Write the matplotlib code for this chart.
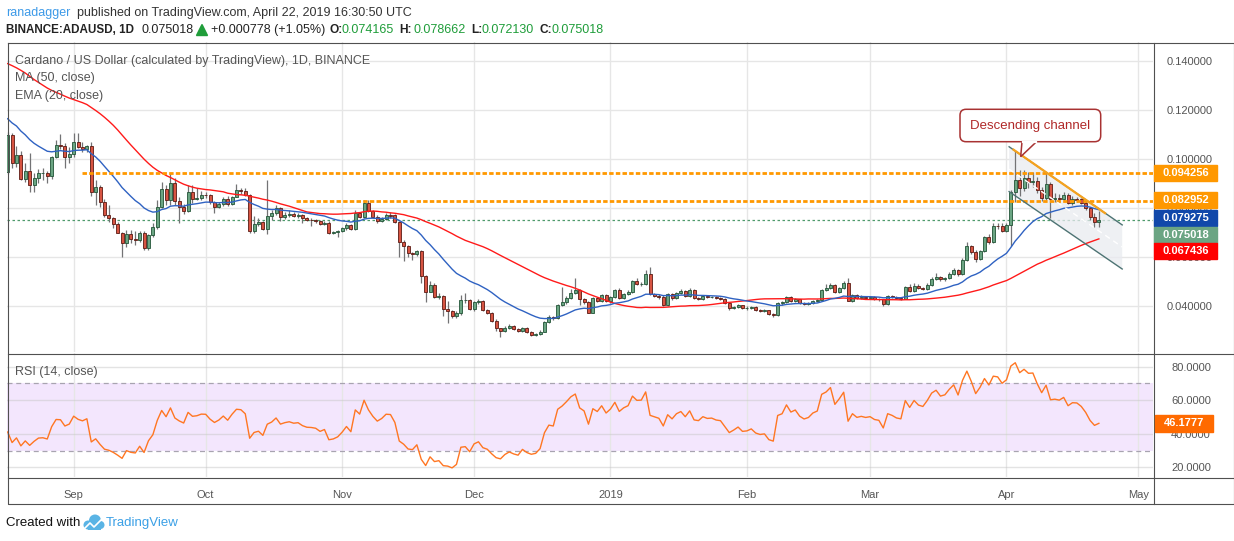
import numpy as np
import matplotlib
matplotlib.use("Agg")
import matplotlib.pyplot as plt
from matplotlib.patches import Rectangle, FancyBboxPatch, Polygon, Circle

plt.rcParams['font.family'] = ['Liberation Sans', 'DejaVu Sans']

W, H = 1234, 541

# ADA/USD daily, 2018-08-17 .. 2019-04-22
# closes of the 50 days before the first visible candle (feeds MA/EMA/RSI warm-up)
closes_before = [0.136, 0.140, 0.146, 0.143, 0.150, 0.155, 0.160, 0.152, 0.150, 0.153,
                 0.148, 0.146, 0.143, 0.142, 0.140, 0.138, 0.135, 0.137, 0.143, 0.147,
                 0.150, 0.148, 0.150, 0.155, 0.158, 0.165, 0.170, 0.172, 0.168, 0.163,
                 0.166, 0.160, 0.155, 0.150, 0.145, 0.140, 0.135, 0.132, 0.130, 0.127,
                 0.122, 0.118, 0.112, 0.106, 0.100, 0.098, 0.090, 0.093, 0.096, 0.0948]

closes = [
    0.1100, 0.0985, 0.1016, 0.0918, 0.0951, 0.0895, 0.0921, 0.0942, 0.0944, 0.0932,
    0.1007, 0.1057, 0.1055, 0.1008, 0.1020, 0.1071, 0.1050, 0.1040, 0.1052, 0.0866,
    0.0884, 0.0826, 0.0771, 0.0758, 0.0733, 0.0699, 0.0658, 0.0694, 0.0675, 0.0668,
    0.0697, 0.0635, 0.0690, 0.0721, 0.0805, 0.0876, 0.0833, 0.0901, 0.0828, 0.0805,
    0.0789, 0.0866, 0.0838, 0.0842, 0.0853, 0.0852, 0.0823, 0.0803, 0.0816, 0.0837,
    0.0815, 0.0846, 0.0873, 0.0871, 0.0853, 0.0707, 0.0735, 0.0741, 0.0713, 0.0767,
    0.0778, 0.0799, 0.0765, 0.0772, 0.0776, 0.0769, 0.0771, 0.0758, 0.0751, 0.0750,
    0.0747, 0.0735, 0.0740, 0.0699, 0.0701, 0.0706, 0.0717, 0.0731, 0.0714, 0.0778,
    0.0765, 0.0819, 0.0788, 0.0765, 0.0747, 0.0756, 0.0771, 0.0770, 0.0744, 0.0662,
    0.0644, 0.0615, 0.0611, 0.0624, 0.0522, 0.0458, 0.0486, 0.0438, 0.0441, 0.0386,
    0.0381, 0.0360, 0.0370, 0.0424, 0.0426, 0.0389, 0.0415, 0.0422, 0.0384, 0.0373,
    0.0340, 0.0309, 0.0299, 0.0311, 0.0318, 0.0305, 0.0297, 0.0311, 0.0293, 0.0283,
    0.0285, 0.0295, 0.0333, 0.0354, 0.0351, 0.0404, 0.0416, 0.0433, 0.0453, 0.0465,
    0.0427, 0.0418, 0.0373, 0.0431, 0.0421, 0.0445, 0.0420, 0.0436, 0.0465, 0.0434,
    0.0449, 0.0458, 0.0502, 0.0489, 0.0490, 0.0529, 0.0448, 0.0442, 0.0436, 0.0404,
    0.0448, 0.0431, 0.0452, 0.0461, 0.0442, 0.0465, 0.0431, 0.0428, 0.0442, 0.0436,
    0.0437, 0.0431, 0.0429, 0.0411, 0.0391, 0.0397, 0.0404, 0.0391, 0.0392, 0.0396,
    0.0385, 0.0381, 0.0382, 0.0367, 0.0363, 0.0411, 0.0415, 0.0437, 0.0422, 0.0427,
    0.0414, 0.0408, 0.0411, 0.0420, 0.0424, 0.0465, 0.0472, 0.0486, 0.0456, 0.0472,
    0.0493, 0.0422, 0.0445, 0.0434, 0.0437, 0.0434, 0.0436, 0.0429, 0.0427, 0.0408,
    0.0441, 0.0437, 0.0431, 0.0429, 0.0476, 0.0461, 0.0482, 0.0472, 0.0469, 0.0486,
    0.0510, 0.0520, 0.0509, 0.0513, 0.0531, 0.0547, 0.0529, 0.0588, 0.0645, 0.0622,
    0.0591, 0.0624, 0.0680, 0.0662, 0.0727, 0.0725, 0.0707, 0.0731, 0.0867, 0.0914,
    0.0880, 0.0921, 0.0907, 0.0910, 0.0873, 0.0840, 0.0898, 0.0836, 0.0840, 0.0836,
    0.0853, 0.0819, 0.0836, 0.0835, 0.0822, 0.0799, 0.0765, 0.07424, 0.075018,
]

highs = [
    0.1110, 0.1108, 0.1053, 0.1034, 0.0982, 0.1023, 0.0944, 0.0958, 0.0962, 0.0951,
    0.1012, 0.1078, 0.1102, 0.1067, 0.1048, 0.1107, 0.1107, 0.1071, 0.1059, 0.1071,
    0.0914, 0.0894, 0.0837, 0.0812, 0.0765, 0.0744, 0.0704, 0.0710, 0.0710, 0.0705,
    0.0705, 0.0705, 0.0694, 0.0738, 0.0833, 0.0907, 0.0894, 0.0942, 0.0921, 0.0846,
    0.0815, 0.0894, 0.0894, 0.0880, 0.0870, 0.0865, 0.0858, 0.0830, 0.0826, 0.0845,
    0.0848, 0.0850, 0.0897, 0.0880, 0.0880, 0.0858, 0.0769, 0.0760, 0.0747, 0.0914,
    0.0792, 0.0812, 0.0803, 0.0784, 0.0790, 0.0785, 0.0780, 0.0775, 0.0762, 0.0760,
    0.0755, 0.0752, 0.0746, 0.0748, 0.0706, 0.0712, 0.0722, 0.0738, 0.0735, 0.0792,
    0.0785, 0.0833, 0.0833, 0.0792, 0.0770, 0.0762, 0.0778, 0.0782, 0.0775, 0.0748,
    0.0668, 0.0650, 0.0620, 0.0628, 0.0628, 0.0526, 0.0500, 0.0492, 0.0452, 0.0446,
    0.0420, 0.0385, 0.0378, 0.0445, 0.0452, 0.0430, 0.0420, 0.0428, 0.0425, 0.0388,
    0.0376, 0.0345, 0.0312, 0.0320, 0.0325, 0.0321, 0.0310, 0.0316, 0.0314, 0.0297,
    0.0290, 0.0300, 0.0340, 0.0362, 0.0360, 0.0410, 0.0479, 0.0440, 0.0470, 0.0513,
    0.0470, 0.0432, 0.0422, 0.0436, 0.0438, 0.0450, 0.0450, 0.0440, 0.0470, 0.0472,
    0.0455, 0.0465, 0.0508, 0.0516, 0.0498, 0.0547, 0.0560, 0.0452, 0.0447, 0.0445,
    0.0452, 0.0455, 0.0458, 0.0468, 0.0466, 0.0472, 0.0468, 0.0436, 0.0446, 0.0446,
    0.0442, 0.0440, 0.0436, 0.0432, 0.0414, 0.0402, 0.0410, 0.0406, 0.0398, 0.0402,
    0.0400, 0.0388, 0.0386, 0.0385, 0.0370, 0.0416, 0.0420, 0.0442, 0.0440, 0.0432,
    0.0430, 0.0418, 0.0416, 0.0424, 0.0428, 0.0470, 0.0490, 0.0492, 0.0490, 0.0478,
    0.0500, 0.0516, 0.0450, 0.0448, 0.0445, 0.0442, 0.0442, 0.0440, 0.0434, 0.0430,
    0.0446, 0.0446, 0.0440, 0.0435, 0.0480, 0.0490, 0.0492, 0.0490, 0.0478, 0.0495,
    0.0518, 0.0536, 0.0524, 0.0518, 0.0540, 0.0555, 0.0552, 0.0594, 0.0662, 0.0650,
    0.0628, 0.0630, 0.0686, 0.0695, 0.0738, 0.0738, 0.0738, 0.0740, 0.0875, 0.1037,
    0.0955, 0.0955, 0.0945, 0.0948, 0.0925, 0.0885, 0.0942, 0.0908, 0.0860, 0.0858,
    0.0865, 0.0860, 0.0848, 0.0846, 0.0840, 0.0828, 0.0806, 0.0780, 0.078662,
]

lows = [
    0.0940, 0.0965, 0.0969, 0.0914, 0.0907, 0.0867, 0.0867, 0.0901, 0.0914, 0.0901,
    0.0918, 0.1003, 0.1040, 0.0962, 0.0982, 0.1010, 0.1044, 0.1030, 0.1030, 0.0849,
    0.0812, 0.0805, 0.0764, 0.0744, 0.0717, 0.0697, 0.0601, 0.0642, 0.0658, 0.0650,
    0.0660, 0.0629, 0.0629, 0.0680, 0.0714, 0.0799, 0.0812, 0.0812, 0.0812, 0.0740,
    0.0775, 0.0785, 0.0819, 0.0833, 0.0833, 0.0840, 0.0816, 0.0781, 0.0798, 0.0808,
    0.0810, 0.0812, 0.0843, 0.0856, 0.0848, 0.0697, 0.0697, 0.0727, 0.0710, 0.0693,
    0.0752, 0.0772, 0.0745, 0.0754, 0.0765, 0.0762, 0.0760, 0.0738, 0.0745, 0.0728,
    0.0738, 0.0730, 0.0731, 0.0692, 0.0694, 0.0683, 0.0700, 0.0712, 0.0709, 0.0710,
    0.0760, 0.0760, 0.0783, 0.0760, 0.0740, 0.0742, 0.0750, 0.0760, 0.0738, 0.0601,
    0.0584, 0.0599, 0.0588, 0.0605, 0.0493, 0.0418, 0.0456, 0.0432, 0.0430, 0.0359,
    0.0332, 0.0350, 0.0352, 0.0365, 0.0412, 0.0385, 0.0380, 0.0410, 0.0378, 0.0368,
    0.0335, 0.0298, 0.0272, 0.0292, 0.0306, 0.0300, 0.0292, 0.0294, 0.0288, 0.0279,
    0.0279, 0.0282, 0.0292, 0.0330, 0.0344, 0.0348, 0.0400, 0.0410, 0.0430, 0.0450,
    0.0404, 0.0410, 0.0370, 0.0370, 0.0415, 0.0418, 0.0415, 0.0412, 0.0432, 0.0428,
    0.0430, 0.0444, 0.0455, 0.0485, 0.0482, 0.0486, 0.0445, 0.0436, 0.0430, 0.0400,
    0.0400, 0.0426, 0.0428, 0.0448, 0.0438, 0.0438, 0.0428, 0.0424, 0.0425, 0.0432,
    0.0432, 0.0428, 0.0425, 0.0408, 0.0382, 0.0386, 0.0392, 0.0386, 0.0385, 0.0388,
    0.0380, 0.0376, 0.0374, 0.0363, 0.0356, 0.0360, 0.0406, 0.0412, 0.0418, 0.0418,
    0.0410, 0.0403, 0.0404, 0.0407, 0.0416, 0.0420, 0.0462, 0.0468, 0.0452, 0.0452,
    0.0468, 0.0420, 0.0418, 0.0430, 0.0430, 0.0428, 0.0430, 0.0424, 0.0422, 0.0402,
    0.0405, 0.0432, 0.0428, 0.0424, 0.0427, 0.0458, 0.0458, 0.0468, 0.0464, 0.0466,
    0.0483, 0.0505, 0.0503, 0.0504, 0.0510, 0.0527, 0.0524, 0.0526, 0.0584, 0.0612,
    0.0580, 0.0586, 0.0620, 0.0655, 0.0658, 0.0715, 0.0700, 0.0700, 0.0645, 0.0826,
    0.0850, 0.0868, 0.0880, 0.0885, 0.0862, 0.0830, 0.0832, 0.0758, 0.0825, 0.0820,
    0.0830, 0.0815, 0.0812, 0.0826, 0.0815, 0.0790, 0.0750, 0.0721, 0.072130,
]

# crypto daily candles open at the previous close
opens = [closes_before[-1]] + closes[:-1]

month_ticks = [15, 45, 76, 106, 137, 168, 196, 227, 257]
month_labels = ["Sep", "Oct", "Nov", "Dec", "2019", "Feb", "Mar", "Apr", "May"]
price_ticks = [0.04, 0.06, 0.08, 0.10, 0.12, 0.14]
rsi_ticks = [20, 40, 60, 80]
resistance = [0.094256, 0.082952]
resistance_start = [16.8, 65.5]
last_close = 0.075018

# --- indicators -------------------------------------------------------------
full = np.array(closes_before + closes)
n0 = len(closes_before)
ma50 = np.convolve(full, np.ones(50) / 50, mode="valid")[n0 - 49:]

ema = np.empty_like(full)
ema[0] = full[0]
k = 2 / 21
for j in range(1, len(full)):
    ema[j] = full[j] * k + ema[j - 1] * (1 - k)
ema20 = ema[n0:]

d = np.diff(full)
gain, loss = np.clip(d, 0, None), np.clip(-d, 0, None)
ag, al = gain[:14].mean(), loss[:14].mean()
rsi_full = [np.nan] * 14
for j in range(14, len(d)):
    ag = (ag * 13 + gain[j]) / 14
    al = (al * 13 + loss[j]) / 14
    rsi_full.append(100 - 100 / (1 + ag / al) if al > 0 else 100)
rsi = np.array(rsi_full)[n0 - 1:]

# --- figure ---------------------------------------------------------------
fig = plt.figure(figsize=(W / 100, H / 100), dpi=100)
fig.patch.set_facecolor("white")


def box(l, t, r, b):
    return [l / W, 1 - b / H, (r - l) / W, (b - t) / H]


ax = fig.add_axes(box(7, 42, 1153, 352))
rx = fig.add_axes(box(7, 353, 1153, 477), sharex=ax)
ov = fig.add_axes([0, 0, 1, 1], zorder=10)
ov.set_xlim(0, W)
ov.set_ylim(H, 0)
ov.axis("off")

GRID = "#e6e6e6"
TXT = "#555555"
xlo, xhi = (7 - 7.67) / 4.4, (1153 - 7.67) / 4.4

for a in (ax, rx):
    for s in a.spines.values():
        s.set_visible(False)
    a.set_xticks(month_ticks)
    a.grid(axis="x", color=GRID, lw=1)
    a.set_axisbelow(True)
ax.set_xlim(xlo, xhi)
ax.set_ylim(0.02122, 0.14776)
ax.tick_params(axis="x", bottom=False, labelbottom=False)
ax.yaxis.tick_right()
ax.set_yticks(price_ticks)
ax.set_yticklabels([f"{v:.6f}" for v in price_ticks])
ax.tick_params(axis="y", length=0, pad=10, labelsize=8, labelcolor=TXT)
ax.grid(axis="y", color=GRID, lw=1)

# candles
idx = np.arange(len(closes))
o, c = np.array(opens), np.array(closes)
hi, lo = np.array(highs), np.array(lows)
up = c >= o
minh = 0.00025
bh = np.maximum(np.abs(c - o), minh)
bb = np.minimum(o, c) - (bh - np.abs(c - o)) / 2
ax.vlines(idx, lo, hi, color="#737375", lw=0.9, zorder=3)
ax.bar(idx[up], bh[up], bottom=bb[up], width=0.66, color="#6ba583",
       edgecolor="#225437", lw=0.6, zorder=4)
ax.bar(idx[~up], bh[~up], bottom=bb[~up], width=0.66, color="#d75442",
       edgecolor="#5b1a13", lw=0.6, zorder=4)

ax.plot(idx, ma50, color="#ff1a1a", lw=1.0, zorder=5)
ax.plot(idx, ema20, color="#2f62c2", lw=1.0, zorder=5)

# horizontal levels
for lvl, x0 in zip(resistance, resistance_start):
    ax.plot([x0, xhi], [lvl, lvl], color="#ff9800", lw=2.0,
            ls=(0, (1.6, 0.8)), zorder=6, solid_capstyle="butt")
ax.axhline(last_close, color="#4f9a6c", lw=0.9, ls=(0, (2, 2)), zorder=2)

# descending channel
ch_x = [227.6, 253.3]
ch_up = [0.1050, 0.0731]
ch_dn = [0.0867, 0.0551]
ax.fill([ch_x[0], ch_x[1], ch_x[1], ch_x[0]],
        [ch_up[0], ch_up[1], ch_dn[1], ch_dn[0]],
        color="#e9ebf0", alpha=0.75, lw=0, zorder=2)
ax.plot(ch_x, ch_up, color="#4d7373", lw=1.0, zorder=6)
ax.plot(ch_x, ch_dn, color="#4d7373", lw=1.0, zorder=6)
ax.plot(ch_x, [(ch_up[0] + ch_dn[0]) / 2, (ch_up[1] + ch_dn[1]) / 2],
        color="white", lw=1.0, ls=(0, (4, 3)), zorder=6)
ax.plot([228.6, 249.4], [0.1038, 0.0779], color="#f5a21e", lw=1.6, zorder=7)

# RSI pane
rx.set_ylim(14.2, 88.2)
rx.axhspan(30, 70, color="#f3e6fd", lw=0, zorder=0)
for lvl in (30, 70):
    rx.axhline(lvl, color="#a8a4b0", lw=0.9, ls=(0, (4, 3)), zorder=1)
rx.yaxis.tick_right()
rx.set_yticks(rsi_ticks)
rx.set_yticklabels([f"{v:.4f}" for v in rsi_ticks])
rx.tick_params(axis="y", length=0, pad=13, labelsize=8, labelcolor=TXT)
rx.grid(axis="y", color="#c8c8c8", alpha=0.5, lw=1)
rx.set_xticklabels(month_labels)
rx.tick_params(axis="x", length=0, pad=9, labelsize=8, labelcolor=TXT)
rx.plot(idx, rsi, color="#ff7622", lw=1.0, zorder=3)

# --- overlay: frame, labels, texts --------------------------------------------
FR = "#505050"
ov.plot([7.5, 1233.5, 1233.5, 7.5, 7.5], [42.5, 42.5, 503.5, 503.5, 42.5], color=FR, lw=0.8)
ov.plot([1153.5, 1153.5], [42.5, 503.5], color=FR, lw=0.8)
ov.plot([7.5, 1233.5], [353.5, 353.5], color=FR, lw=0.8)
ov.plot([7.5, 1233.5], [477.5, 477.5], color=FR, lw=0.8)

for txt, col, yc in [("0.094256", "#ff9800", 173.3), ("0.082952", "#ff9800", 200.0),
                     ("0.079275", "#1148aa", 218.0), ("0.075018", "#6ba583", 234.7),
                     ("0.067436", "#ff0000", 251.3)]:
    ov.add_patch(Rectangle((1154, yc - 8), 63, 16, color=col, zorder=3))
    ov.text(1185.5, yc, txt, color="white", weight="bold", fontsize=8,
            ha="center", va="center", zorder=4)
ov.add_patch(Rectangle((1155, 415.3), 58, 16.4, color="#ff6a00", zorder=3))
ov.text(1184, 423.5, "46.1777", color="white", weight="bold", fontsize=8,
        ha="center", va="center", zorder=4)

# callout
ov.add_patch(FancyBboxPatch((960, 109.3), 140.7, 32.4, boxstyle="round,pad=0,rounding_size=6",
                            fc="white", ec="#a83232", lw=1.1, zorder=3))
ov.add_patch(Polygon([(1022, 141.7), (1020.7, 156.7), (1036.5, 141.7)], closed=False,
                     fc="white", ec="#a83232", lw=1.1, zorder=3))
ov.plot([1022.8, 1035.5], [141.7, 141.7], color="white", lw=1.6, zorder=4)
ov.text(1030.3, 125.5, "Descending channel", color="#b02828", fontsize=9.5,
        ha="center", va="center", zorder=5)

# pane legends
ov.text(15, 61, "Cardano / US Dollar (calculated by TradingView), 1D, BINANCE",
        color=TXT, fontsize=9, va="center")
ov.text(15, 78.5, "MA (50, close)", color=TXT, fontsize=9, va="center")
ov.text(15, 96, "EMA (20, close)", color=TXT, fontsize=9, va="center")
ov.text(15, 372, "RSI (14, close)", color=TXT, fontsize=9, va="center")

# header
DARK = "#333333"
GREEN = "#1f9d3a"
ov.text(6, 13, "ranadagger", color="#3d9ae8", fontsize=9, va="center")
ov.text(77, 13, "published on TradingView.com, April 22, 2019 16:30:50 UTC",
        color=DARK, fontsize=9, va="center")
for x, s, col, wt, fs in [(6, "BINANCE:ADAUSD, 1D", "#222222", "bold", 8.4),
                          (141, "0.075018", "#222222", "normal", 9),
                          (211, "+0.000778 (+1.05%)", "#222222", "normal", 9),
                          (329, "O:", "#222222", "bold", 8.6), (342, "0.074165", GREEN, "normal", 9),
                          (399, "H:", "#222222", "bold", 8.6), (413, "0.078662", GREEN, "normal", 9),
                          (471, "L:", "#222222", "bold", 8.6), (482, "0.072130", GREEN, "normal", 9),
                          (540, "C:", "#222222", "bold", 8.6), (552, "0.075018", GREEN, "normal", 9)]:
    ov.text(x, 30, s, color=col, fontsize=fs, weight=wt, va="center")
ov.add_patch(Polygon([(196.5, 35.5), (207.5, 35.5), (202, 24.5)], color="#1f9d3a"))

# footer
ov.text(6, 523, "Created with", color="#111111", fontsize=9.5, va="center")
for cx, cy, r in [(88, 525, 4.5), (95, 520.5, 6), (100.5, 525, 4)]:
    ov.add_patch(Circle((cx, cy), r, color="#5ab4e5", lw=0))
ov.add_patch(Rectangle((88, 524), 12.5, 5.5, color="#5ab4e5", lw=0))
ov.plot([84, 90, 94, 102], [529, 523, 527, 519], color="white", lw=1.2)
ov.text(106, 523, "TradingView", color="#3ba0e6", fontsize=9.5, va="center")

fig.savefig("out.png", dpi=100, facecolor="white")
